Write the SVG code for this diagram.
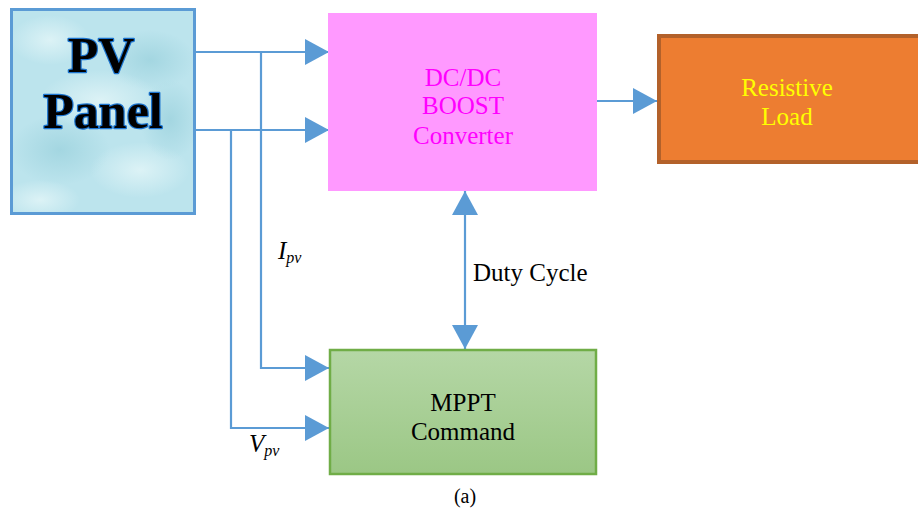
<svg xmlns="http://www.w3.org/2000/svg" width="918" height="512" viewBox="0 0 918 512">
<style>
.conn{fill:none;stroke:#5B9BD5;stroke-width:2.2}
.t{font-family:"Liberation Serif","Times New Roman",serif;font-size:25px;text-anchor:middle}
.lbl{font-family:"Liberation Serif","Times New Roman",serif;font-size:25px}
.pv{font-family:"Liberation Serif","Times New Roman",serif;font-size:50px;font-weight:bold;text-anchor:middle;fill:#000;stroke:#1C74CF;stroke-width:2.4;paint-order:stroke;stroke-linejoin:round}
</style>
<defs>
<marker id="ah" markerUnits="userSpaceOnUse" markerWidth="24" markerHeight="26" refX="24" refY="13" orient="auto-start-reverse">
<path d="M0,0 L24,13 L0,26 Z" fill="#5B9BD5"/>
</marker>
<linearGradient id="gMppt" x1="0" y1="0" x2="0" y2="1">
<stop offset="0" stop-color="#B5D7A6"/>
<stop offset="1" stop-color="#9BC785"/>
</linearGradient>
<radialGradient id="blob" cx="0.5" cy="0.5" r="0.5">
<stop offset="0" stop-color="#E4F6F8" stop-opacity="0.8"/>
<stop offset="1" stop-color="#E4F6F8" stop-opacity="0"/>
</radialGradient>
<radialGradient id="blobD" cx="0.5" cy="0.5" r="0.5">
<stop offset="0" stop-color="#93CDD9" stop-opacity="0.6"/>
<stop offset="1" stop-color="#93CDD9" stop-opacity="0"/>
</radialGradient>
<clipPath id="pvClip"><rect x="11" y="9" width="184" height="205"/></clipPath>
</defs>

<g id="connectors">
<path class="conn" d="M195,52 H329" marker-end="url(#ah)"/>
<path class="conn" d="M195,130 H329" marker-end="url(#ah)"/>
<path class="conn" d="M261,52 V368 H329" marker-end="url(#ah)"/>
<path class="conn" d="M231,130 V428 H329" marker-end="url(#ah)"/>
<path class="conn" d="M465,191 V349" marker-start="url(#ah)" marker-end="url(#ah)"/>
<path class="conn" d="M597,101 H657" marker-end="url(#ah)"/>
</g>

<g id="pv-panel">
<rect x="10" y="8" width="186" height="207" fill="#BCE4ED"/>
<g clip-path="url(#pvClip)">
<ellipse cx="50" cy="40" rx="40" ry="25" fill="url(#blob)"/>
<ellipse cx="150" cy="60" rx="45" ry="30" fill="url(#blobD)"/>
<ellipse cx="60" cy="150" rx="50" ry="35" fill="url(#blobD)"/>
<ellipse cx="140" cy="170" rx="50" ry="28" fill="url(#blob)"/>
<ellipse cx="100" cy="100" rx="60" ry="30" fill="url(#blob)"/>
<ellipse cx="40" cy="200" rx="40" ry="20" fill="url(#blob)"/>
<ellipse cx="170" cy="120" rx="30" ry="40" fill="url(#blobD)"/>
</g>
<rect x="11.5" y="9.5" width="183" height="204" fill="none" stroke="#5B9BD5" stroke-width="3"/>
<text class="pv" x="101" y="72">PV</text>
<text class="pv" x="103" y="128">Panel</text>
</g>

<g id="dcdc">
<rect x="328" y="13" width="269" height="178" fill="#FF99FF"/>
<text class="t" x="463" y="86" fill="#FF00FF">DC/DC</text>
<text class="t" x="463" y="114" fill="#FF00FF">BOOST</text>
<text class="t" x="463" y="144" fill="#FF00FF">Converter</text>
</g>

<g id="load">
<rect x="659" y="36" width="262" height="126" fill="#ED7D31" stroke="#B3612A" stroke-width="4"/>
<text class="t" x="787" y="96" fill="#FFFF00">Resistive</text>
<text class="t" x="787" y="125" fill="#FFFF00">Load</text>
</g>

<g id="mppt">
<rect x="330" y="350" width="266" height="124" fill="url(#gMppt)" stroke="#70AD47" stroke-width="2.5"/>
<text class="t" x="463" y="411" fill="#000">MPPT</text>
<text class="t" x="463" y="440" fill="#000">Command</text>
</g>

<g id="labels">
<text class="lbl" x="473" y="281" fill="#000">Duty Cycle</text>
<text class="lbl" x="278" y="259" fill="#000" font-style="italic">I<tspan font-size="16" dy="4">pv</tspan></text>
<text class="lbl" x="249" y="452" fill="#000" font-style="italic">V<tspan font-size="16" dy="4">pv</tspan></text>
<text class="t" x="465" y="503" fill="#000" style="font-size:20px">(a)</text>
</g>
</svg>
